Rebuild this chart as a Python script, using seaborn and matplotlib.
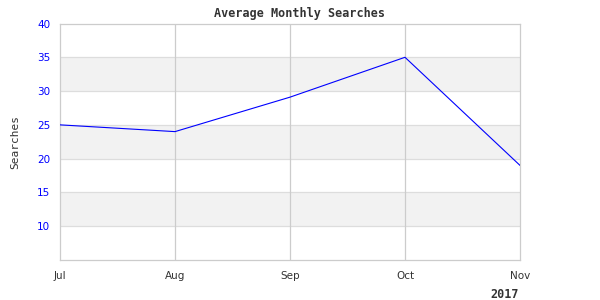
import matplotlib
matplotlib.use("Agg")
import matplotlib.pyplot as plt
import seaborn as sns
import pandas as pd

months = ["Jul", "Aug", "Sep", "Oct", "Nov"]
searches = [25, 24, 29.1, 35, 19]
y_ticks = [10, 15, 20, 25, 30, 35, 40]
title = "Average Monthly Searches"
y_label = "Searches"
year_label = "2017"

sns.set_theme(style="white")
plt.rcParams["font.family"] = ["DejaVu Sans"]

df = pd.DataFrame({"month": months, "searches": searches})
df["pos"] = range(len(months))

fig = plt.figure(figsize=(6, 3), dpi=100)
ax = fig.add_axes([60/600, 1 - 260/300, 460/600, 236.5/300])

ax.set_ylim(5, 40)
ax.set_xlim(0, len(months) - 1)

# alternating bands
for lo in [10, 20, 30]:
    ax.axhspan(lo, lo + 5, color="#f2f2f2", zorder=0, lw=0)
for t in y_ticks[:-1]:
    ax.axhline(t, color="#dddddd", lw=0.9, zorder=1)
for p in range(1, len(months) - 1):
    ax.axvline(p, color="#cccccc", lw=0.9, zorder=1)

sns.lineplot(data=df, x="pos", y="searches", ax=ax, color="#0000ff", lw=0.8, zorder=3)

ax.set_xticks(range(len(months)))
ax.set_xticklabels(months)
ax.set_yticks(y_ticks)
ax.set_yticklabels([str(t) for t in y_ticks])
ax.tick_params(axis="x", length=0, pad=8, labelsize=7.5, labelcolor="#333333")
ax.tick_params(axis="y", length=0, pad=7, labelsize=7.5, labelcolor="#0000ff")
ax.set_xlabel("")
ax.set_ylabel("")

for s in ax.spines.values():
    s.set_color("#cccccc")
    s.set_linewidth(0.9)

fig.text(15/600, 1 - 142/300, y_label, ha="center", va="center", rotation=90,
         fontsize=8, family="DejaVu Sans Mono", color="#333333")
fig.text(300/600, 1 - 13/300, title, ha="center", va="center", fontsize=8.5,
         family="DejaVu Sans Mono", weight="bold", color="#333333")
fig.text(519/600, 1 - 295/300, year_label, ha="right", va="center", fontsize=8.5,
         family="DejaVu Sans Mono", weight="bold", color="#333333")

fig.savefig("out.png", dpi=100)
